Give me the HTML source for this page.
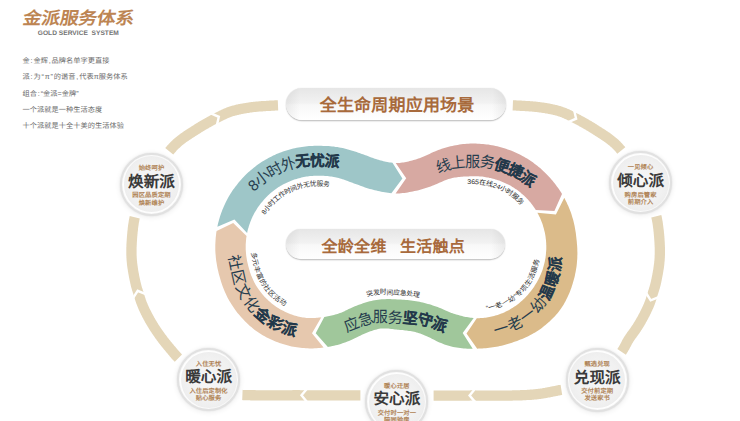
<!DOCTYPE html>
<html lang="zh-CN">
<head>
<meta charset="utf-8">
<title>金派服务体系</title>
<style>
html,body{margin:0;padding:0;background:#fff;}
body{width:740px;height:421px;position:relative;overflow:hidden;font-family:"Liberation Sans",sans-serif;text-rendering:geometricPrecision;}
svg{position:absolute;left:0;top:0;}
svg text{font-family:"Liberation Sans",sans-serif;}
.rt{font-size:15.2px;fill:#263D4E;font-weight:300;}
.rt .b{font-weight:900;fill:#22384A;stroke:#22384A;stroke-width:0.1px;}
.rs{font-size:6.8px;fill:#2b2b2b;}
.abs{position:absolute;white-space:nowrap;}
.title{left:21.3px;top:7.2px;font-size:17px;line-height:24px;color:#BD8553;font-weight:700;transform:skewX(-10deg) scaleX(1.087);transform-origin:left bottom;}
.sub{left:37.8px;top:30.2px;font-size:6.6px;line-height:8px;font-weight:bold;color:#737373;letter-spacing:0.03px;transform-origin:left center;}
.p{left:22.5px;font-size:7.2px;color:#6a6a6a;line-height:10px;letter-spacing:0.06px;}
.p b{font-weight:normal;margin:0 0.8px;}
.pill{position:absolute;border-radius:16px;box-sizing:border-box;text-align:center;color:#A86A3C;font-weight:bold;white-space:nowrap;
 background:linear-gradient(to right,rgba(0,0,0,.06),rgba(0,0,0,0) 14px,rgba(0,0,0,0) calc(100% - 14px),rgba(0,0,0,.06)),linear-gradient(#e6e6e6 0%,#f2f2f2 47%,#f8f8f8 53%,#ffffff 100%);
 box-shadow:0 1.2px 1.2px 0 rgba(0,0,0,.22),0 0 1px 0 rgba(0,0,0,.18),0 0 0 4px #fff;}
.c{position:absolute;width:0;height:0;}
.c i{position:absolute;display:block;border-radius:50%;}
.c .o{left:-31.6px;top:-31.6px;width:63.2px;height:63.2px;box-sizing:border-box;background:#fff;border:2.2px solid #e1e1e1;box-shadow:0 0 2px 0 rgba(0,0,0,.10),0 1px 5px 1px rgba(0,0,0,.06),inset 0 0 1.5px 0 rgba(0,0,0,.10);}
.c .n{left:-27.9px;top:-27.9px;width:55.8px;height:55.8px;background:radial-gradient(circle,#f7f7f7 0%,#f1f1f1 55%,#eaeaea 90%,#efefef 100%);}
.c div{position:absolute;left:-50px;width:100px;text-align:center;white-space:nowrap;}
.c .t{font-size:15.6px;font-weight:bold;color:#3a3a3a;top:-12.5px;line-height:22px;}
.c .a,.c .s1,.c .s2{font-size:6.3px;color:#B08457;line-height:8px;font-weight:bold;letter-spacing:0.1px}
.c.d1 div{margin-top:1px}
.c .a{top:-19.2px}
.c .s1{top:8.1px}
.c .s2{top:15.4px}
</style>

</head>
<body>
<svg width="740" height="421" viewBox="0 0 740 421">
<defs>
<path id="tp_teal" d="M250.4 188.1 L251.1 187.3 L251.8 186.5 L252.5 185.8 L253.2 185.1 L254.0 184.4 L254.7 183.6 L255.5 182.9 L256.3 182.3 L257.0 181.6 L257.8 180.9 L258.6 180.2 L259.4 179.6 L260.2 178.9 L261.0 178.3 L261.8 177.7 L262.6 177.1 L263.5 176.5 L264.3 175.9 L265.2 175.3 L266.0 174.7 L266.9 174.1 L267.7 173.6 L268.6 173.0 L269.5 172.5 L270.4 172.0 L271.3 171.5 L272.2 171.0 L273.1 170.5 L274.0 170.0 L274.9 169.5 L275.8 169.1 L276.7 168.6 L277.6 168.2 L278.6 167.7 L279.5 167.3 L280.5 166.9 L281.4 166.5 L282.4 166.1 L283.3 165.8 L284.3 165.4 L285.2 165.1 L286.2 164.7 L287.2 164.4 L288.1 164.1 L289.1 163.8 L290.1 163.5 L291.1 163.2 L292.1 162.9 L293.1 162.7 L294.0 162.4 L295.0 162.2 L296.0 161.9 L297.0 161.7 L298.0 161.5 L299.0 161.3 L300.0 161.1 L301.1 161.0 L302.1 160.8 L303.1 160.7 L304.1 160.5 L305.1 160.4 L306.1 160.3 L307.1 160.2 L308.1 160.1 L309.2 160.0 L310.2 160.0 L311.2 159.9 L312.2 159.9 L313.2 159.9 L314.3 159.8 L315.3 159.8 L316.3 159.8 L317.3 159.9 L318.3 159.9 L319.4 159.9 L320.4 159.9 L321.4 160.0 L322.4 160.0 L323.4 160.1 L324.5 160.1 L325.5 160.2 L326.5 160.3 L327.5 160.4 L328.5 160.5 L329.5 160.6 L330.6 160.7 L331.6 160.9 L332.6 161.0 L333.6 161.2 L334.6 161.4 L335.6 161.6 L336.6 161.8 L337.6 162.0 L338.6 162.2 L339.6 162.4"/>
<path id="tp_pink" d="M436.8 168.4 L437.7 168.0 L438.6 167.6 L439.5 167.2 L440.4 166.8 L441.4 166.4 L442.3 166.0 L443.3 165.6 L444.2 165.3 L445.2 165.0 L446.2 164.7 L447.2 164.4 L448.2 164.1 L449.2 163.9 L450.2 163.6 L451.2 163.4 L452.2 163.2 L453.2 162.9 L454.2 162.7 L455.2 162.6 L456.2 162.4 L457.2 162.2 L458.2 162.1 L459.2 161.9 L460.2 161.8 L461.2 161.7 L462.2 161.6 L463.2 161.5 L464.2 161.4 L465.2 161.3 L466.2 161.2 L467.2 161.1 L468.3 161.1 L469.3 161.0 L470.3 161.0 L471.3 160.9 L472.3 160.9 L473.3 160.9 L474.3 160.9 L475.3 160.9 L476.3 160.9 L477.3 161.0 L478.3 161.0 L479.3 161.1 L480.3 161.1 L481.3 161.2 L482.3 161.3 L483.3 161.4 L484.3 161.5 L485.3 161.6 L486.3 161.8 L487.3 161.9 L488.3 162.1 L489.3 162.3 L490.3 162.5 L491.3 162.7 L492.3 162.9 L493.2 163.1 L494.2 163.3 L495.2 163.5 L496.2 163.8 L497.1 164.0 L498.1 164.3 L499.1 164.6 L500.0 164.8 L501.0 165.1 L501.9 165.4 L502.9 165.7 L503.8 166.0 L504.8 166.4 L505.7 166.7 L506.7 167.0 L507.6 167.4 L508.6 167.7 L509.5 168.1 L510.4 168.5 L511.3 168.9 L512.3 169.3 L513.2 169.7 L514.1 170.1 L515.0 170.6 L515.9 171.0 L516.8 171.5 L517.7 171.9 L518.5 172.4 L519.4 172.9 L520.3 173.4 L521.2 173.9 L522.0 174.4 L522.9 175.0 L523.7 175.5 L524.6 176.1 L525.4 176.6 L526.2 177.2 L527.1 177.8 L527.9 178.4 L528.7 179.0 L529.5 179.6 L530.3 180.2 L531.1 180.8 L531.8 181.5 L532.6 182.1 L533.4 182.8 L534.1 183.4"/>
<path id="tp_gold" d="M493.9 330.7 L494.8 330.5 L495.8 330.2 L496.8 330.0 L497.8 329.7 L498.7 329.5 L499.7 329.2 L500.6 328.9 L501.6 328.6 L502.6 328.3 L503.5 328.0 L504.5 327.7 L505.4 327.4 L506.3 327.0 L507.3 326.7 L508.2 326.3 L509.1 325.9 L510.1 325.5 L511.0 325.1 L511.9 324.7 L512.8 324.3 L513.7 323.9 L514.6 323.4 L515.5 323.0 L516.4 322.5 L517.2 322.0 L518.1 321.5 L519.0 321.0 L519.8 320.5 L520.7 319.9 L521.5 319.4 L522.3 318.8 L523.2 318.3 L524.0 317.7 L524.8 317.1 L525.6 316.5 L526.4 315.9 L527.2 315.3 L528.0 314.7 L528.7 314.0 L529.5 313.4 L530.2 312.7 L531.0 312.1 L531.7 311.4 L532.4 310.7 L533.1 310.0 L533.9 309.3 L534.6 308.6 L535.2 307.9 L535.9 307.1 L536.6 306.4 L537.2 305.7 L537.9 304.9 L538.5 304.2 L539.2 303.4 L539.8 302.6 L540.4 301.8 L541.0 301.1 L541.6 300.3 L542.2 299.5 L542.7 298.6 L543.3 297.8 L543.8 297.0 L544.4 296.2 L544.9 295.3 L545.4 294.5 L545.8 293.6 L546.3 292.7 L546.7 291.8 L547.2 291.0 L547.6 290.1 L548.0 289.2 L548.4 288.3 L548.8 287.4 L549.2 286.5 L549.6 285.6 L549.9 284.7 L550.3 283.8 L550.6 282.8 L550.9 281.9 L551.2 281.0 L551.5 280.1 L551.8 279.2 L552.1 278.2 L552.4 277.3 L552.6 276.4 L552.9 275.4 L553.1 274.5 L553.3 273.6 L553.5 272.6 L553.7 271.7 L553.9 270.7 L554.1 269.8 L554.2 268.9 L554.4 267.9 L554.5 267.0 L554.7 266.0 L554.8 265.1 L554.9 264.1 L555.0 263.2 L555.1 262.3 L555.2 261.3 L555.2 260.4 L555.3 259.4 L555.4 258.5 L555.4 257.6 L555.5 256.6"/>
<path id="tp_green" d="M344.4 326.8 L345.3 326.5 L346.2 326.2 L347.1 325.8 L348.1 325.5 L349.0 325.1 L349.9 324.8 L350.8 324.4 L351.8 324.0 L352.7 323.6 L353.6 323.2 L354.5 322.8 L355.5 322.4 L356.4 322.1 L357.3 321.7 L358.3 321.4 L359.2 321.0 L360.2 320.7 L361.1 320.4 L362.1 320.1 L363.1 319.8 L364.0 319.5 L365.0 319.2 L365.9 318.9 L366.9 318.7 L367.9 318.4 L368.8 318.2 L369.8 318.0 L370.8 317.7 L371.8 317.5 L372.8 317.3 L373.7 317.1 L374.7 317.0 L375.7 316.8 L376.7 316.7 L377.7 316.6 L378.7 316.5 L379.7 316.4 L380.7 316.4 L381.7 316.3 L382.7 316.3 L383.7 316.4 L384.7 316.4 L385.7 316.5 L386.7 316.6 L387.7 316.7 L388.7 316.8 L389.7 316.9 L390.7 317.1 L391.7 317.2 L392.7 317.3 L393.6 317.4 L394.6 317.5 L395.6 317.5 L396.6 317.6 L397.5 317.6 L398.5 317.7 L399.5 317.7 L400.4 317.7 L401.4 317.7 L402.4 317.7 L403.4 317.7 L404.3 317.7 L405.3 317.7 L406.3 317.7 L407.3 317.7 L408.3 317.7 L409.2 317.8 L410.2 317.8 L411.2 317.9 L412.2 317.9 L413.2 318.0 L414.2 318.1 L415.1 318.2 L416.1 318.3 L417.1 318.4 L418.1 318.6 L419.1 318.7 L420.0 318.9 L421.0 319.0 L422.0 319.2 L423.0 319.4 L423.9 319.6 L424.9 319.8 L425.9 320.1 L426.8 320.3 L427.8 320.5 L428.8 320.8 L429.7 321.1 L430.7 321.3 L431.6 321.6 L432.6 321.9 L433.5 322.2 L434.5 322.5 L435.4 322.9 L436.4 323.2 L437.3 323.5 L438.2 323.9 L439.2 324.2 L440.1 324.6 L441.0 325.0 L442.0 325.3 L442.9 325.7 L443.9 326.0 L444.8 326.4 L445.7 326.7 L446.7 327.0"/>
<path id="tp_peach" d="M234.0 254.9 L234.1 255.8 L234.2 256.8 L234.4 257.7 L234.5 258.7 L234.7 259.6 L234.8 260.6 L235.0 261.5 L235.2 262.5 L235.4 263.4 L235.6 264.4 L235.8 265.3 L236.1 266.2 L236.3 267.2 L236.5 268.1 L236.7 269.1 L236.9 270.0 L237.1 270.9 L237.4 271.9 L237.6 272.8 L237.8 273.8 L238.0 274.7 L238.3 275.6 L238.5 276.6 L238.7 277.5 L239.0 278.5 L239.3 279.4 L239.6 280.4 L239.8 281.3 L240.1 282.2 L240.5 283.2 L240.8 284.1 L241.1 285.0 L241.5 286.0 L241.8 286.9 L242.2 287.8 L242.6 288.7 L243.0 289.6 L243.4 290.6 L243.8 291.5 L244.3 292.4 L244.7 293.2 L245.2 294.1 L245.7 295.0 L246.2 295.9 L246.7 296.7 L247.2 297.6 L247.8 298.4 L248.3 299.2 L248.9 300.0 L249.5 300.8 L250.1 301.6 L250.7 302.4 L251.3 303.2 L252.0 304.0 L252.6 304.8 L253.3 305.6 L253.9 306.3 L254.6 307.1 L255.3 307.8 L255.9 308.6 L256.6 309.3 L257.3 310.0 L258.1 310.7 L258.8 311.4 L259.5 312.1 L260.2 312.8 L261.0 313.5 L261.7 314.2 L262.5 314.8 L263.3 315.5 L264.1 316.1 L264.8 316.8 L265.7 317.4 L266.5 318.0 L267.3 318.6 L268.1 319.1 L269.0 319.7 L269.8 320.2 L270.7 320.8 L271.6 321.3 L272.4 321.8 L273.3 322.3 L274.2 322.7 L275.1 323.2 L276.0 323.7 L276.9 324.1 L277.9 324.5 L278.8 324.9 L279.7 325.3 L280.6 325.7 L281.6 326.1 L282.5 326.5 L283.4 326.9 L284.4 327.2 L285.3 327.5 L286.3 327.9 L287.3 328.2 L288.2 328.5 L289.2 328.8 L290.1 329.1 L291.1 329.3 L292.1 329.6 L293.1 329.8 L294.0 330.1 L295.0 330.3 L296.0 330.5 L297.0 330.7"/>
<path id="tp_teal_s" d="M263.1 213.7 L263.5 213.1 L263.9 212.4 L264.3 211.9 L264.7 211.2 L265.2 210.6 L265.6 210.0 L266.0 209.5 L266.5 208.9 L266.9 208.3 L267.4 207.7 L267.8 207.2 L268.3 206.6 L268.8 206.0 L269.2 205.5 L269.7 204.9 L270.2 204.4 L270.7 203.8 L271.2 203.3 L271.7 202.8 L272.2 202.3 L272.8 201.8 L273.3 201.2 L273.8 200.7 L274.3 200.2 L274.9 199.8 L275.4 199.3 L276.0 198.8 L276.6 198.3 L277.1 197.9 L277.7 197.4 L278.3 196.9 L278.9 196.5 L279.5 196.1 L280.0 195.6 L280.6 195.2 L281.2 194.8 L281.9 194.4 L282.5 194.0 L283.1 193.6 L283.7 193.2 L284.3 192.8 L285.0 192.4 L285.6 192.1 L286.2 191.7 L286.9 191.4 L287.5 191.0 L288.2 190.7 L288.8 190.4 L289.5 190.0 L290.2 189.7 L290.9 189.4 L291.5 189.1 L292.2 188.8 L292.9 188.6 L293.6 188.3 L294.2 188.0 L294.9 187.8 L295.6 187.5 L296.3 187.3 L297.0 187.0 L297.7 186.8 L298.4 186.6 L299.1 186.4 L299.8 186.2 L300.5 186.0 L301.3 185.8 L302.0 185.6 L302.7 185.4 L303.4 185.3 L304.1 185.1 L304.9 185.0 L305.6 184.8 L306.3 184.7 L307.0 184.6 L307.8 184.5 L308.5 184.4 L309.2 184.3 L310.0 184.2 L310.7 184.1 L311.4 184.0 L312.2 184.0 L312.9 183.9 L313.6 183.9 L314.4 183.8 L315.1 183.8 L315.9 183.8 L316.6 183.8 L317.3 183.8 L318.1 183.7 L318.8 183.7 L319.6 183.7 L320.3 183.7 L321.0 183.8 L321.8 183.8 L322.5 183.8 L323.3 183.8 L324.0 183.8 L324.8 183.9 L325.5 183.9 L326.2 184.0 L327.0 184.1 L327.8 184.1 L328.5 184.2 L329.2 184.3 L330.0 184.4"/>
<path id="tp_pink_s" d="M467.3 182.1 L468.0 182.1 L468.8 182.0 L469.6 182.0 L470.3 182.0 L471.1 181.9 L471.9 181.9 L472.6 181.9 L473.4 181.9 L474.1 181.9 L474.9 181.9 L475.7 181.9 L476.4 181.9 L477.2 182.0 L477.9 182.0 L478.7 182.1 L479.5 182.1 L480.2 182.2 L481.0 182.3 L481.7 182.3 L482.5 182.4 L483.2 182.5 L484.0 182.7 L484.7 182.8 L485.5 182.9 L486.2 183.1 L487.0 183.2 L487.7 183.4 L488.5 183.5 L489.2 183.7 L489.9 183.9 L490.7 184.1 L491.4 184.3 L492.1 184.5 L492.8 184.7 L493.6 184.9 L494.3 185.1 L495.0 185.4 L495.7 185.6 L496.4 185.9 L497.1 186.1 L497.8 186.4 L498.5 186.7 L499.2 186.9 L499.9 187.2 L500.6 187.5 L501.3 187.8 L502.0 188.2 L502.7 188.5 L503.4 188.8 L504.0 189.1 L504.7 189.5 L505.4 189.9 L506.0 190.2 L506.7 190.6 L507.3 191.0 L508.0 191.3 L508.6 191.7 L509.2 192.1 L509.9 192.5 L510.5 193.0 L511.1 193.4 L511.7 193.8 L512.3 194.2 L513.0 194.7 L513.6 195.1 L514.1 195.6 L514.7 196.0 L515.3 196.5 L515.9 197.0 L516.5 197.5 L517.0 198.0 L517.6 198.5 L518.2 199.0 L518.7 199.5 L519.2 200.0 L519.8 200.5 L520.3 201.0 L520.8 201.6 L521.4 202.1 L521.9 202.6 L522.4 203.2 L522.9 203.7"/>
<path id="tp_gold_s" d="M485.9 308.2 L486.6 308.1 L487.3 308.0 L488.1 307.9 L488.8 307.7 L489.5 307.6 L490.2 307.4 L490.9 307.3 L491.6 307.1 L492.3 306.9 L493.0 306.8 L493.7 306.6 L494.4 306.4 L495.1 306.2 L495.8 306.0 L496.5 305.7 L497.2 305.5 L497.9 305.3 L498.6 305.0 L499.3 304.8 L500.0 304.5 L500.6 304.3 L501.3 304.0 L502.0 303.7 L502.7 303.4 L503.3 303.2 L504.0 302.9 L504.7 302.6 L505.3 302.2 L506.0 301.9 L506.6 301.6 L507.3 301.3 L508.0 300.9 L508.6 300.6 L509.2 300.2 L509.9 299.9 L510.5 299.5 L511.1 299.1 L511.8 298.7 L512.4 298.3 L513.0 297.9 L513.6 297.5 L514.2 297.1 L514.8 296.6 L515.4 296.2 L516.0 295.7 L516.5 295.3 L517.1 294.8 L517.7 294.3 L518.2 293.8 L518.8 293.4 L519.3 292.9 L519.9 292.3 L520.4 291.8 L520.9 291.3 L521.5 290.8 L522.0 290.3 L522.5 289.7 L523.0 289.2 L523.5 288.7 L524.0 288.1 L524.5 287.5 L524.9 287.0 L525.4 286.4 L525.9 285.8 L526.3 285.2 L526.7 284.6 L527.2 284.0 L527.6 283.4 L528.0 282.8 L528.4 282.2 L528.8 281.5 L529.1 280.9 L529.5 280.3 L529.8 279.6 L530.2 279.0 L530.5 278.3 L530.9 277.6 L531.2 277.0 L531.5 276.3 L531.8 275.6 L532.1 275.0 L532.4 274.3 L532.7 273.6 L532.9 272.9 L533.2 272.3 L533.5 271.6 L533.7 270.9 L534.0 270.2 L534.2 269.5 L534.4 268.8 L534.6 268.1 L534.8 267.4 L535.0 266.7 L535.2 266.0 L535.4 265.3 L535.6 264.6 L535.7 263.9 L535.9 263.2 L536.1 262.5 L536.2 261.8 L536.3 261.0 L536.5 260.3 L536.6 259.6 L536.7 258.9"/>
<path id="tp_green_s" d="M366.5 294.4 L367.7 294.1 L368.9 293.8 L370.1 293.5 L371.3 293.2 L372.5 293.0 L373.7 292.7 L374.9 292.6 L376.1 292.4 L377.4 292.2 L378.6 292.1 L379.8 292.1 L381.1 292.0 L382.3 291.9 L383.5 291.9 L384.8 291.9 L386.0 291.9 L387.2 292.0 L388.5 292.0 L389.7 292.1 L390.9 292.1 L392.1 292.2 L393.3 292.3 L394.6 292.3 L395.8 292.4 L397.0 292.5 L398.2 292.6 L399.4 292.6 L400.6 292.7 L401.9 292.8 L403.1 292.9 L404.3 293.0 L405.5 293.1 L406.7 293.2 L407.9 293.3 L409.1 293.4 L410.3 293.5 L411.5 293.7 L412.7 293.8 L413.9 294.0 L415.1 294.2 L416.3 294.4 L417.5 294.6 L418.7 294.8 L419.9 295.0"/>
<path id="tp_peach_s" d="M253.7 252.1 L253.8 252.8 L253.8 253.5 L253.9 254.2 L254.0 255.0 L254.1 255.7 L254.2 256.4 L254.3 257.1 L254.5 257.9 L254.6 258.6 L254.7 259.3 L254.9 260.0 L255.0 260.7 L255.2 261.4 L255.3 262.2 L255.5 262.9 L255.7 263.6 L255.8 264.3 L256.0 265.0 L256.2 265.7 L256.4 266.4 L256.6 267.1 L256.8 267.8 L257.0 268.6 L257.2 269.2 L257.4 270.0 L257.7 270.7 L257.9 271.4 L258.2 272.0 L258.4 272.7 L258.7 273.4 L259.0 274.1 L259.2 274.8 L259.5 275.5 L259.8 276.2 L260.1 276.9 L260.4 277.5 L260.8 278.2 L261.1 278.9 L261.4 279.5 L261.8 280.2 L262.1 280.8 L262.5 281.5 L262.9 282.1 L263.3 282.8 L263.7 283.4 L264.1 284.0 L264.5 284.6 L264.9 285.2 L265.3 285.9 L265.8 286.5 L266.2 287.1 L266.7 287.7 L267.1 288.3 L267.6 288.8 L268.1 289.4 L268.6 290.0 L269.1 290.6 L269.6 291.1 L270.1 291.7 L270.6 292.2 L271.1 292.8 L271.6 293.3 L272.1 293.8 L272.7 294.4 L273.2 294.9 L273.8 295.4 L274.3 295.9 L274.9 296.4 L275.4 296.9 L276.0 297.4 L276.6 297.9 L277.2 298.3 L277.8 298.8 L278.4 299.3 L279.0 299.7 L279.6 300.1 L280.2 300.6 L280.8 301.0 L281.5 301.4 L282.1 301.8 L282.8 302.2 L283.4 302.6 L284.1 302.9 L284.7 303.3 L285.4 303.7 L286.1 304.0"/>
</defs>
<g id="ring">
<polygon points="513.0,100.2 513.8,100.2 514.6,100.3 515.3,100.3 516.1,100.3 516.8,100.4 517.6,100.4 518.4,100.4 519.1,100.5 519.9,100.5 520.6,100.6 521.4,100.6 522.1,100.7 522.9,100.7 523.6,100.7 524.4,100.8 525.1,100.8 525.9,100.9 526.6,100.9 527.4,101.0 528.1,101.0 528.9,101.1 529.7,101.1 530.4,101.2 531.2,101.2 532.0,101.3 532.7,101.3 533.5,101.4 534.3,101.5 535.1,101.5 535.8,101.6 536.6,101.7 537.4,101.8 538.2,101.9 538.9,102.0 539.7,102.1 540.5,102.2 541.3,102.3 542.0,102.4 542.8,102.5 543.5,102.6 544.3,102.7 545.1,102.8 545.8,103.0 546.6,103.1 547.3,103.2 548.1,103.3 548.9,103.5 549.6,103.6 550.4,103.8 551.2,103.9 551.9,104.1 552.7,104.2 553.5,104.4 554.2,104.5 555.0,104.7 555.8,104.9 556.5,105.1 557.3,105.3 558.1,105.5 558.9,105.7 559.7,105.9 560.4,106.1 561.2,106.4 562.0,106.6 562.8,106.9 563.5,107.2 564.3,107.4 565.1,107.7 565.8,108.0 566.6,108.3 567.3,108.7 568.1,109.0 568.8,109.3 569.5,109.6 570.2,110.0 570.9,110.3 571.6,110.6 572.3,111.0 573.0,111.3 573.7,111.7 574.4,112.0 575.1,112.4 575.8,112.7 576.4,113.0 577.1,113.4 577.8,113.7 578.5,114.1 579.1,114.4 579.8,114.8 580.5,115.1 581.2,115.5 581.9,115.9 582.5,116.2 583.2,116.6 583.9,117.0 584.6,117.3 585.2,117.7 585.9,118.1 586.6,118.5 587.2,118.8 587.9,119.2 588.6,119.6 589.2,120.0 589.9,120.4 590.6,120.7 591.2,121.1 591.9,121.5 592.5,121.9 593.2,122.3 593.9,122.7 594.5,123.1 595.2,123.5 595.8,123.9 596.5,124.3 597.1,124.7 597.8,125.2 598.4,125.6 599.0,126.0 599.7,126.4 600.3,126.8 600.9,127.2 601.6,127.6 602.2,128.0 602.8,128.4 603.5,128.8 604.1,129.2 604.8,129.6 605.4,130.0 606.1,130.5 606.7,130.9 607.3,131.3 608.0,131.7 608.6,132.2 609.3,132.6 609.9,133.1 610.6,133.5 611.2,134.0 611.9,134.5 612.5,134.9 613.1,135.4 613.8,135.9 614.4,136.4 615.0,136.9 615.6,137.4 616.3,137.9 616.9,138.5 617.5,139.0 618.1,139.6 618.7,140.1 619.3,140.7 619.9,141.3 620.5,141.8 621.0,142.4 621.6,143.0 622.1,143.6 622.7,144.2 623.2,144.8 623.7,145.4 624.3,146.0 624.8,146.6 625.3,147.2 625.3,147.2 617.3,153.7 616.9,153.2 616.4,152.7 616.0,152.1 615.5,151.6 615.0,151.1 614.6,150.6 614.1,150.1 613.6,149.6 613.1,149.1 612.6,148.6 612.1,148.1 611.6,147.6 611.1,147.1 610.6,146.7 610.1,146.2 609.6,145.8 609.1,145.3 608.5,144.9 608.0,144.5 607.4,144.0 606.9,143.6 606.3,143.2 605.7,142.8 605.2,142.3 604.6,141.9 604.0,141.5 603.4,141.1 602.8,140.7 602.2,140.3 601.6,139.9 601.0,139.5 600.4,139.1 599.8,138.7 599.2,138.3 598.6,137.9 597.9,137.5 597.3,137.1 596.7,136.7 596.1,136.3 595.4,135.9 594.8,135.5 594.2,135.1 593.5,134.7 592.9,134.3 592.2,133.8 591.6,133.4 591.0,133.1 590.4,132.7 589.7,132.3 589.1,131.9 588.5,131.5 587.9,131.1 587.2,130.8 586.6,130.4 586.0,130.0 585.3,129.6 584.7,129.3 584.1,128.9 583.4,128.5 582.8,128.2 582.2,127.8 581.5,127.4 580.9,127.1 580.2,126.7 579.6,126.4 578.9,126.0 578.3,125.6 577.6,125.3 577.0,124.9 576.3,124.6 575.7,124.3 575.0,123.9 574.4,123.6 573.7,123.2 573.1,122.9 572.4,122.6 571.8,122.2 571.1,121.9 570.4,121.5 569.8,121.2 569.1,120.9 568.4,120.5 567.8,120.2 567.1,119.9 566.5,119.6 565.8,119.3 565.2,119.0 564.5,118.7 563.9,118.4 563.3,118.1 562.6,117.9 562.0,117.6 561.3,117.3 560.7,117.1 560.1,116.9 559.4,116.6 558.8,116.4 558.1,116.2 557.5,116.0 556.8,115.8 556.1,115.6 555.5,115.4 554.8,115.3 554.1,115.1 553.4,114.9 552.7,114.8 552.0,114.6 551.3,114.4 550.6,114.3 549.9,114.2 549.2,114.0 548.5,113.9 547.8,113.8 547.1,113.6 546.3,113.5 545.6,113.4 544.9,113.3 544.2,113.1 543.5,113.0 542.7,112.9 542.0,112.8 541.3,112.7 540.5,112.6 539.8,112.5 539.1,112.4 538.4,112.3 537.7,112.2 536.9,112.1 536.2,112.0 535.5,111.9 534.8,111.9 534.1,111.8 533.4,111.7 532.6,111.7 531.9,111.6 531.2,111.5 530.4,111.5 529.7,111.4 529.0,111.4 528.2,111.3 527.5,111.3 526.8,111.2 526.0,111.2 525.3,111.2 524.5,111.1 523.8,111.1 523.0,111.0 522.3,111.0 521.5,110.9 520.8,110.9 520.0,110.9 519.3,110.8 518.5,110.8 517.8,110.7 517.0,110.7 516.3,110.7 515.6,110.6 514.8,110.6 514.1,110.5 513.3,110.5 512.6,110.5 512.6,110.5" fill="#E4D6B8"/>
<polyline points="574.2,110.2 576.1,118.7 568.2,122.1" fill="none" stroke="#fff" stroke-width="2.4" stroke-linejoin="miter"/>
<polygon points="661.3,215.0 661.5,215.8 661.7,216.6 661.8,217.3 662.0,218.1 662.1,218.9 662.3,219.7 662.4,220.5 662.6,221.2 662.7,222.0 662.8,222.8 662.9,223.6 663.0,224.3 663.1,225.1 663.2,225.9 663.3,226.6 663.4,227.4 663.5,228.2 663.6,229.0 663.7,229.7 663.8,230.5 663.9,231.3 663.9,232.0 664.0,232.8 664.1,233.5 664.2,234.3 664.2,235.1 664.3,235.8 664.4,236.6 664.4,237.4 664.5,238.1 664.5,238.9 664.6,239.7 664.6,240.4 664.7,241.2 664.7,242.0 664.8,242.7 664.8,243.5 664.8,244.3 664.9,245.1 664.9,245.8 664.9,246.6 665.0,247.4 665.0,248.2 665.0,248.9 665.0,249.7 665.0,250.5 665.0,251.3 665.0,252.1 665.0,252.8 665.0,253.6 665.0,254.4 665.0,255.2 664.9,256.0 664.9,256.8 664.9,257.6 664.8,258.3 664.8,259.1 664.7,259.9 664.7,260.7 664.6,261.5 664.5,262.3 664.4,263.1 664.4,263.8 664.3,264.6 664.2,265.4 664.1,266.2 664.0,267.0 663.9,267.7 663.8,268.5 663.7,269.3 663.5,270.0 663.4,270.8 663.3,271.6 663.2,272.3 663.0,273.1 662.9,273.9 662.8,274.6 662.6,275.4 662.5,276.1 662.3,276.9 662.2,277.6 662.0,278.4 661.9,279.1 661.7,279.9 661.6,280.7 661.4,281.4 661.3,282.2 661.1,282.9 660.9,283.7 660.8,284.4 660.6,285.2 660.4,286.0 660.2,286.8 660.0,287.5 659.8,288.3 659.6,289.1 659.3,289.8 659.1,290.6 658.9,291.3 658.6,292.1 658.4,292.8 658.2,293.5 657.9,294.2 657.7,294.9 657.5,295.6 657.3,296.3 657.1,297.0 656.8,297.7 656.6,298.5 656.4,299.2 656.2,299.9 656.0,300.7 655.7,301.4 655.5,302.2 655.2,302.9 654.9,303.7 654.7,304.5 654.4,305.2 654.1,306.0 653.8,306.7 653.5,307.5 653.2,308.2 652.8,308.9 652.5,309.6 652.2,310.4 651.9,311.1 651.5,311.8 651.2,312.5 650.9,313.2 650.5,313.9 650.2,314.6 649.9,315.3 649.5,316.0 649.2,316.7 648.8,317.3 648.4,318.0 648.1,318.7 647.7,319.4 647.3,320.1 647.0,320.8 646.6,321.5 646.2,322.1 645.8,322.8 645.5,323.5 645.1,324.2 644.7,324.8 644.3,325.5 643.9,326.2 643.5,326.8 643.1,327.5 642.7,328.1 642.3,328.8 641.9,329.5 641.4,330.1 641.0,330.8 640.6,331.5 640.1,332.1 639.7,332.8 639.2,333.4 638.7,334.1 638.3,334.7 637.8,335.3 637.4,335.9 636.9,336.6 636.5,337.2 636.1,337.8 635.6,338.3 635.2,338.9 634.8,339.5 634.4,340.1 634.0,340.7 633.6,341.3 633.3,341.8 632.9,342.4 632.6,343.0 632.2,343.5 631.9,344.1 631.6,344.7 631.2,345.4 630.9,346.0 630.6,346.7 630.2,347.3 629.8,348.0 629.5,348.7 629.1,349.4 628.7,350.1 628.3,350.8 627.9,351.6 627.4,352.3 627.0,353.0 626.6,353.6 626.2,354.3 625.9,354.7 617.3,349.1 617.7,348.5 618.1,347.8 618.5,347.2 618.8,346.7 619.2,346.1 619.5,345.5 619.8,344.9 620.2,344.3 620.5,343.7 620.8,343.0 621.2,342.4 621.5,341.7 621.9,341.0 622.2,340.3 622.6,339.6 623.0,338.9 623.4,338.2 623.8,337.5 624.3,336.8 624.7,336.1 625.2,335.4 625.6,334.7 626.1,334.0 626.5,333.4 627.0,332.8 627.4,332.1 627.9,331.5 628.3,330.9 628.8,330.3 629.2,329.7 629.7,329.1 630.1,328.5 630.5,327.9 630.9,327.3 631.3,326.7 631.7,326.1 632.1,325.6 632.5,325.0 632.9,324.4 633.3,323.8 633.7,323.1 634.0,322.5 634.4,321.9 634.8,321.3 635.2,320.7 635.5,320.0 635.9,319.4 636.3,318.8 636.6,318.1 637.0,317.5 637.4,316.9 637.7,316.2 638.1,315.6 638.4,315.0 638.7,314.3 639.1,313.7 639.4,313.0 639.8,312.4 640.1,311.8 640.4,311.1 640.7,310.5 641.1,309.8 641.4,309.1 641.7,308.5 642.0,307.8 642.3,307.2 642.6,306.5 642.9,305.9 643.2,305.2 643.5,304.6 643.8,303.9 644.1,303.3 644.3,302.6 644.6,301.9 644.8,301.3 645.1,300.7 645.3,300.0 645.5,299.4 645.8,298.7 646.0,298.0 646.2,297.3 646.4,296.7 646.6,295.9 646.8,295.2 647.1,294.5 647.3,293.8 647.5,293.0 647.8,292.3 648.0,291.6 648.2,290.8 648.4,290.1 648.7,289.4 648.9,288.7 649.1,288.0 649.3,287.3 649.5,286.7 649.7,286.0 649.9,285.3 650.1,284.6 650.3,283.9 650.4,283.3 650.6,282.6 650.8,281.9 650.9,281.2 651.1,280.5 651.2,279.7 651.4,279.0 651.6,278.3 651.7,277.6 651.8,276.9 652.0,276.1 652.1,275.4 652.3,274.7 652.4,274.0 652.5,273.3 652.7,272.5 652.8,271.8 652.9,271.1 653.0,270.4 653.2,269.7 653.3,268.9 653.4,268.2 653.5,267.5 653.6,266.8 653.7,266.1 653.8,265.3 653.9,264.6 654.0,263.9 654.1,263.2 654.2,262.5 654.2,261.8 654.3,261.1 654.4,260.4 654.4,259.7 654.5,258.9 654.5,258.2 654.6,257.5 654.6,256.8 654.6,256.1 654.6,255.4 654.7,254.6 654.7,253.9 654.7,253.2 654.7,252.5 654.7,251.8 654.7,251.0 654.7,250.3 654.7,249.6 654.7,248.9 654.7,248.1 654.7,247.4 654.6,246.7 654.6,246.0 654.6,245.2 654.5,244.5 654.5,243.8 654.5,243.0 654.4,242.3 654.4,241.6 654.3,240.9 654.3,240.1 654.2,239.4 654.2,238.7 654.1,237.9 654.1,237.2 654.0,236.5 653.9,235.7 653.9,235.0 653.8,234.3 653.7,233.5 653.7,232.8 653.6,232.1 653.5,231.3 653.4,230.6 653.4,229.9 653.3,229.1 653.2,228.4 653.1,227.7 653.0,227.0 652.9,226.3 652.8,225.5 652.7,224.8 652.6,224.1 652.5,223.4 652.4,222.7 652.2,222.0 652.1,221.3 652.0,220.6 651.8,219.9 651.7,219.2 651.5,218.5 651.4,217.9 651.3,217.4" fill="#E4D6B8"/>
<polyline points="658.7,297.2 650.7,300.3 646.1,293.0" fill="none" stroke="#fff" stroke-width="2.4" stroke-linejoin="miter"/>
<polygon points="562.2,395.0 561.5,395.1 560.8,395.2 560.1,395.3 559.4,395.5 558.7,395.6 557.9,395.7 557.2,395.9 556.5,396.0 555.8,396.2 555.0,396.3 554.3,396.5 553.6,396.6 552.8,396.8 552.1,396.9 551.3,397.1 550.6,397.2 549.8,397.4 549.1,397.5 548.3,397.6 547.6,397.8 546.8,397.9 546.1,398.1 545.3,398.2 544.5,398.3 543.8,398.5 543.0,398.6 542.2,398.7 541.4,398.8 540.6,398.9 539.8,399.0 539.1,399.1 538.3,399.2 537.5,399.3 536.8,399.4 536.0,399.4 535.2,399.5 534.5,399.6 533.7,399.7 532.9,399.7 532.1,399.8 531.4,399.9 530.6,399.9 529.8,400.0 529.1,400.0 528.3,400.1 527.5,400.1 526.8,400.1 526.0,400.2 525.2,400.2 524.5,400.3 523.7,400.3 523.0,400.3 522.2,400.4 521.4,400.4 520.7,400.4 519.9,400.5 519.2,400.5 518.4,400.5 517.6,400.5 516.9,400.6 516.1,400.6 515.3,400.6 514.6,400.6 513.8,400.6 513.1,400.6 512.3,400.7 511.5,400.7 510.8,400.7 510.0,400.7 509.3,400.7 508.5,400.7 507.8,400.7 507.0,400.7 506.2,400.7 505.5,400.7 504.7,400.7 504.0,400.7 503.2,400.7 502.5,400.7 501.7,400.7 501.0,400.7 500.2,400.7 499.4,400.7 498.7,400.7 497.9,400.7 497.2,400.7 496.4,400.7 495.7,400.7 494.9,400.7 494.2,400.7 493.4,400.7 492.7,400.7 491.9,400.7 491.2,400.7 490.4,400.7 489.7,400.7 488.9,400.7 488.2,400.7 487.4,400.7 486.6,400.7 485.9,400.7 485.1,400.7 484.4,400.7 483.6,400.7 482.9,400.7 482.1,400.7 481.4,400.7 480.6,400.7 479.9,400.7 479.1,400.7 478.4,400.7 477.6,400.7 476.9,400.7 476.1,400.7 475.4,400.6 474.6,400.6 473.9,400.6 473.1,400.6 472.4,400.6 471.6,400.6 470.9,400.6 470.1,400.6 469.4,400.7 468.6,400.7 467.9,400.7 467.1,400.7 466.4,400.7 465.6,400.7 464.9,400.7 464.1,400.7 463.4,400.7 462.6,400.7 461.9,400.7 461.1,400.7 460.4,400.7 459.6,400.7 458.9,400.7 458.1,400.7 457.4,400.7 456.6,400.7 455.9,400.7 455.1,400.7 454.4,400.7 453.6,400.7 452.9,400.7 452.1,400.7 451.4,400.7 450.6,400.7 449.9,400.7 449.1,400.7 448.3,400.7 447.6,400.7 446.8,400.7 446.1,400.7 445.3,400.7 444.6,400.7 443.8,400.7 443.1,400.7 442.3,400.7 441.6,400.7 440.8,400.7 440.1,400.7 439.3,400.7 438.6,400.7 437.8,400.7 437.1,400.7 436.3,400.7 435.6,400.7 434.8,400.7 434.1,400.7 433.6,400.7 433.6,390.4 434.3,390.4 435.1,390.4 435.8,390.4 436.6,390.4 437.3,390.4 438.1,390.4 438.8,390.4 439.6,390.4 440.3,390.4 441.1,390.4 441.8,390.4 442.6,390.4 443.3,390.4 444.1,390.4 444.8,390.4 445.6,390.4 446.3,390.4 447.1,390.4 447.8,390.4 448.6,390.4 449.3,390.4 450.1,390.4 450.9,390.4 451.6,390.4 452.4,390.4 453.1,390.4 453.9,390.4 454.6,390.4 455.4,390.4 456.1,390.4 456.9,390.4 457.6,390.4 458.4,390.4 459.1,390.4 459.9,390.4 460.6,390.4 461.4,390.4 462.1,390.4 462.9,390.4 463.6,390.4 464.4,390.4 465.1,390.4 465.9,390.4 466.6,390.4 467.4,390.4 468.1,390.4 468.9,390.4 469.6,390.4 470.4,390.3 471.1,390.3 471.9,390.3 472.6,390.3 473.4,390.3 474.2,390.3 474.9,390.3 475.7,390.3 476.4,390.4 477.2,390.4 477.9,390.4 478.7,390.4 479.4,390.4 480.2,390.4 480.9,390.4 481.7,390.4 482.4,390.4 483.2,390.4 483.9,390.4 484.7,390.4 485.4,390.4 486.2,390.4 486.9,390.4 487.7,390.4 488.4,390.4 489.2,390.4 490.0,390.4 490.7,390.4 491.5,390.4 492.2,390.4 493.0,390.4 493.7,390.4 494.5,390.4 495.2,390.4 496.0,390.4 496.7,390.4 497.5,390.4 498.2,390.4 498.9,390.4 499.7,390.4 500.4,390.4 501.2,390.4 501.9,390.4 502.7,390.4 503.4,390.4 504.2,390.4 504.9,390.4 505.7,390.4 506.4,390.4 507.2,390.4 507.9,390.4 508.7,390.4 509.4,390.4 510.2,390.4 510.9,390.4 511.6,390.4 512.4,390.3 513.1,390.3 513.9,390.3 514.6,390.3 515.4,390.3 516.1,390.3 516.8,390.3 517.6,390.2 518.3,390.2 519.0,390.2 519.8,390.2 520.5,390.1 521.3,390.1 522.0,390.1 522.8,390.0 523.5,390.0 524.2,390.0 525.0,389.9 525.7,389.9 526.5,389.9 527.2,389.8 527.9,389.8 528.7,389.7 529.4,389.7 530.1,389.6 530.8,389.6 531.6,389.5 532.3,389.5 533.0,389.4 533.7,389.3 534.5,389.3 535.2,389.2 535.9,389.1 536.6,389.0 537.4,388.9 538.1,388.8 538.8,388.8 539.5,388.7 540.2,388.6 540.9,388.5 541.6,388.4 542.4,388.2 543.1,388.1 543.8,388.0 544.5,387.9 545.2,387.8 545.9,387.6 546.6,387.5 547.4,387.3 548.1,387.2 548.8,387.1 549.5,386.9 550.3,386.8 551.0,386.6 551.7,386.5 552.5,386.3 553.2,386.2 554.0,386.0 554.7,385.9 555.5,385.7 556.2,385.6 557.0,385.4 557.7,385.3 558.5,385.1 559.3,385.0 560.1,384.9 560.6,384.8" fill="#E4D6B8"/>
<polyline points="475.2,402.1 469.6,395.5 475.1,388.8" fill="none" stroke="#fff" stroke-width="2.4" stroke-linejoin="miter"/>
<polygon points="360.4,400.6 359.7,400.6 358.9,400.6 358.1,400.6 357.4,400.6 356.6,400.6 355.9,400.6 355.1,400.6 354.4,400.6 353.6,400.6 352.9,400.6 352.1,400.6 351.4,400.6 350.6,400.6 349.9,400.6 349.1,400.6 348.4,400.5 347.6,400.5 346.9,400.5 346.1,400.5 345.4,400.5 344.6,400.5 343.9,400.5 343.1,400.5 342.4,400.5 341.6,400.5 340.9,400.5 340.1,400.5 339.4,400.5 338.6,400.5 337.9,400.5 337.1,400.5 336.3,400.5 335.6,400.5 334.8,400.5 334.1,400.5 333.3,400.5 332.6,400.5 331.8,400.5 331.1,400.5 330.3,400.5 329.6,400.5 328.8,400.5 328.1,400.5 327.3,400.5 326.6,400.5 325.8,400.5 325.1,400.5 324.3,400.5 323.6,400.5 322.8,400.5 322.1,400.5 321.3,400.5 320.6,400.5 319.8,400.5 319.1,400.5 318.3,400.5 317.6,400.5 316.8,400.5 316.1,400.5 315.3,400.5 314.5,400.5 313.8,400.5 313.0,400.5 312.3,400.5 311.5,400.5 310.8,400.5 310.0,400.5 309.3,400.5 308.5,400.5 307.8,400.5 307.0,400.5 306.3,400.5 305.5,400.5 304.8,400.5 304.0,400.5 303.3,400.5 302.5,400.5 301.8,400.5 301.0,400.5 300.3,400.5 299.5,400.4 298.8,400.4 298.0,400.4 297.3,400.4 296.5,400.4 295.8,400.4 295.0,400.4 294.3,400.4 293.5,400.4 292.8,400.4 292.0,400.5 291.3,400.5 290.5,400.5 289.8,400.5 289.0,400.5 288.3,400.5 287.5,400.5 286.8,400.5 286.0,400.5 285.3,400.5 284.5,400.5 283.8,400.5 283.0,400.5 282.3,400.5 281.5,400.5 280.8,400.5 280.0,400.5 279.2,400.5 278.5,400.5 277.7,400.5 277.0,400.5 276.2,400.5 275.5,400.5 274.7,400.5 274.0,400.5 273.2,400.5 272.5,400.5 271.7,400.5 271.0,400.5 270.2,400.5 269.5,400.5 268.7,400.5 267.9,400.5 267.2,400.5 266.4,400.5 265.7,400.5 264.9,400.5 264.2,400.5 263.4,400.5 262.7,400.5 261.9,400.5 261.2,400.5 260.4,400.5 259.6,400.5 258.9,400.5 258.1,400.5 257.4,400.5 256.6,400.5 255.9,400.5 255.1,400.4 254.3,400.4 253.6,400.4 252.8,400.4 252.1,400.4 251.3,400.4 250.6,400.4 249.8,400.3 249.0,400.3 248.3,400.3 247.5,400.3 246.8,400.3 246.0,400.3 245.2,400.2 244.5,400.2 243.7,400.2 243.0,400.2 242.2,400.1 242.2,400.1 242.6,389.8 243.3,389.9 244.1,389.9 244.8,389.9 245.6,389.9 246.3,390.0 247.0,390.0 247.8,390.0 248.5,390.0 249.3,390.0 250.0,390.0 250.8,390.1 251.5,390.1 252.3,390.1 253.0,390.1 253.7,390.1 254.5,390.1 255.2,390.1 256.0,390.2 256.7,390.2 257.5,390.2 258.2,390.2 259.0,390.2 259.7,390.2 260.5,390.2 261.2,390.2 262.0,390.2 262.7,390.2 263.5,390.2 264.2,390.2 265.0,390.2 265.7,390.2 266.5,390.2 267.2,390.2 268.0,390.2 268.7,390.2 269.4,390.2 270.2,390.2 270.9,390.2 271.7,390.2 272.4,390.2 273.2,390.2 273.9,390.2 274.7,390.2 275.5,390.2 276.2,390.2 277.0,390.2 277.7,390.2 278.5,390.2 279.2,390.2 280.0,390.2 280.7,390.2 281.5,390.2 282.2,390.2 283.0,390.2 283.7,390.2 284.5,390.2 285.2,390.2 286.0,390.2 286.7,390.2 287.5,390.2 288.2,390.2 289.0,390.2 289.7,390.2 290.5,390.2 291.2,390.2 292.0,390.2 292.8,390.1 293.5,390.1 294.3,390.1 295.0,390.1 295.8,390.1 296.5,390.1 297.3,390.1 298.0,390.1 298.8,390.1 299.5,390.1 300.3,390.2 301.0,390.2 301.8,390.2 302.5,390.2 303.3,390.2 304.0,390.2 304.8,390.2 305.5,390.2 306.3,390.2 307.1,390.2 307.8,390.2 308.6,390.2 309.3,390.2 310.1,390.2 310.8,390.2 311.6,390.2 312.3,390.2 313.1,390.2 313.8,390.2 314.6,390.2 315.3,390.2 316.1,390.2 316.8,390.2 317.6,390.2 318.3,390.2 319.1,390.2 319.8,390.2 320.6,390.2 321.3,390.2 322.1,390.2 322.8,390.2 323.6,390.2 324.3,390.2 325.1,390.2 325.8,390.2 326.6,390.2 327.3,390.2 328.1,390.2 328.9,390.2 329.6,390.2 330.4,390.2 331.1,390.2 331.9,390.2 332.6,390.2 333.4,390.2 334.1,390.2 334.9,390.2 335.6,390.2 336.4,390.2 337.1,390.2 337.9,390.2 338.6,390.2 339.4,390.2 340.1,390.2 340.9,390.2 341.6,390.2 342.4,390.2 343.1,390.2 343.9,390.2 344.6,390.2 345.4,390.2 346.1,390.2 346.9,390.2 347.6,390.2 348.4,390.2 349.1,390.3 349.9,390.3 350.7,390.3 351.4,390.3 352.2,390.3 352.9,390.3 353.7,390.3 354.4,390.3 355.2,390.3 355.9,390.3 356.7,390.3 357.4,390.3 358.2,390.3 358.9,390.3 359.7,390.3 360.4,390.3 360.4,390.3" fill="#E4D6B8"/>
<polyline points="307.0,402.0 301.5,395.3 307.0,388.7" fill="none" stroke="#fff" stroke-width="2.4" stroke-linejoin="miter"/>
<polygon points="174.8,361.8 174.2,361.2 173.7,360.7 173.1,360.1 172.5,359.5 171.9,358.9 171.4,358.2 170.8,357.6 170.3,357.0 169.8,356.4 169.4,355.8 168.9,355.2 168.4,354.7 167.9,354.1 167.5,353.5 167.0,353.0 166.5,352.4 166.0,351.8 165.5,351.2 165.0,350.6 164.5,350.1 164.0,349.5 163.6,348.9 163.1,348.3 162.6,347.7 162.1,347.1 161.6,346.5 161.1,345.9 160.7,345.3 160.2,344.7 159.7,344.1 159.2,343.5 158.8,342.9 158.3,342.2 157.8,341.6 157.4,341.0 156.9,340.4 156.5,339.8 156.0,339.1 155.5,338.5 155.1,337.9 154.7,337.3 154.2,336.6 153.8,336.0 153.3,335.3 152.9,334.7 152.5,334.1 152.0,333.4 151.6,332.8 151.2,332.1 150.7,331.5 150.3,330.8 149.9,330.2 149.5,329.5 149.1,328.9 148.7,328.2 148.3,327.6 147.9,326.9 147.5,326.2 147.1,325.6 146.7,324.9 146.3,324.2 145.9,323.6 145.5,322.9 145.1,322.2 144.7,321.5 144.4,320.8 144.0,320.2 143.6,319.5 143.3,318.8 142.9,318.1 142.5,317.4 142.2,316.7 141.8,316.0 141.5,315.3 141.1,314.7 140.8,314.0 140.5,313.3 140.1,312.6 139.8,311.9 139.5,311.1 139.1,310.4 138.8,309.7 138.5,309.0 138.2,308.3 137.9,307.6 137.6,306.8 137.3,306.1 137.0,305.3 136.7,304.6 136.4,303.8 136.1,303.0 135.9,302.3 135.6,301.5 135.4,300.7 135.1,300.0 134.9,299.3 134.7,298.5 134.5,297.8 134.3,297.1 134.0,296.4 133.8,295.7 133.6,295.0 133.4,294.3 133.2,293.6 132.9,292.9 132.7,292.1 132.5,291.4 132.2,290.7 132.0,289.9 131.8,289.2 131.6,288.4 131.3,287.6 131.1,286.9 130.9,286.1 130.7,285.3 130.6,284.5 130.4,283.8 130.2,283.0 130.1,282.3 129.9,281.5 129.7,280.8 129.6,280.0 129.4,279.2 129.3,278.5 129.1,277.7 129.0,277.0 128.8,276.2 128.7,275.5 128.6,274.7 128.4,273.9 128.3,273.2 128.2,272.4 128.0,271.7 127.9,270.9 127.8,270.1 127.7,269.4 127.5,268.6 127.4,267.8 127.3,267.1 127.2,266.3 127.1,265.5 127.0,264.7 126.9,264.0 126.9,263.2 126.8,262.4 126.7,261.6 126.6,260.8 126.6,260.0 126.5,259.2 126.5,258.4 126.4,257.7 126.4,256.9 126.4,256.1 126.3,255.3 126.3,254.5 126.3,253.7 126.3,252.9 126.3,252.2 126.3,251.4 126.3,250.6 126.3,249.8 126.3,249.1 126.3,248.3 126.3,247.5 126.4,246.7 126.4,245.9 126.4,245.2 126.4,244.4 126.5,243.6 126.5,242.9 126.6,242.1 126.6,241.3 126.7,240.5 126.7,239.8 126.8,239.0 126.8,238.2 126.9,237.5 126.9,236.7 127.0,235.9 127.1,235.2 127.1,234.4 127.2,233.7 127.3,232.9 127.3,232.1 127.4,231.4 127.5,230.6 127.6,229.8 127.7,229.1 127.7,228.3 127.8,227.5 127.9,226.8 128.0,226.0 128.1,225.2 128.2,224.5 128.3,223.7 128.5,222.9 128.6,222.1 128.7,221.4 128.8,220.6 129.0,219.8 129.1,219.0 129.3,218.2 129.4,217.5 129.6,216.7 129.7,216.1 139.8,218.4 139.6,219.1 139.5,219.8 139.3,220.5 139.2,221.2 139.1,221.9 138.9,222.6 138.8,223.3 138.7,224.0 138.6,224.7 138.5,225.4 138.4,226.1 138.3,226.8 138.2,227.6 138.1,228.3 138.0,229.0 138.0,229.7 137.9,230.5 137.8,231.2 137.7,231.9 137.6,232.6 137.6,233.4 137.5,234.1 137.4,234.8 137.4,235.6 137.3,236.3 137.2,237.1 137.2,237.8 137.1,238.5 137.1,239.3 137.0,240.0 137.0,240.7 136.9,241.4 136.9,242.2 136.8,242.9 136.8,243.6 136.8,244.4 136.7,245.1 136.7,245.8 136.7,246.6 136.6,247.3 136.6,248.0 136.6,248.7 136.6,249.5 136.6,250.2 136.6,250.9 136.6,251.6 136.6,252.3 136.6,253.1 136.6,253.8 136.6,254.5 136.6,255.2 136.7,255.9 136.7,256.7 136.7,257.4 136.8,258.1 136.8,258.8 136.9,259.5 136.9,260.2 137.0,260.9 137.1,261.6 137.1,262.3 137.2,263.1 137.3,263.8 137.4,264.5 137.5,265.2 137.6,265.9 137.7,266.6 137.8,267.4 137.9,268.1 138.0,268.8 138.1,269.5 138.2,270.2 138.3,270.9 138.5,271.7 138.6,272.4 138.7,273.1 138.9,273.8 139.0,274.6 139.1,275.3 139.3,276.0 139.4,276.7 139.6,277.4 139.7,278.1 139.9,278.9 140.0,279.6 140.2,280.3 140.3,281.0 140.5,281.7 140.7,282.4 140.8,283.1 141.0,283.8 141.2,284.5 141.3,285.1 141.5,285.8 141.7,286.5 141.9,287.2 142.1,287.9 142.4,288.6 142.6,289.3 142.8,290.0 143.0,290.7 143.3,291.4 143.5,292.1 143.7,292.9 144.0,293.6 144.2,294.3 144.4,295.1 144.6,295.8 144.8,296.5 145.1,297.2 145.3,297.9 145.5,298.6 145.7,299.2 145.9,299.9 146.2,300.5 146.4,301.2 146.6,301.8 146.9,302.5 147.2,303.1 147.5,303.8 147.7,304.4 148.0,305.1 148.3,305.7 148.6,306.4 148.9,307.0 149.2,307.7 149.5,308.4 149.8,309.0 150.2,309.7 150.5,310.3 150.8,311.0 151.1,311.6 151.5,312.3 151.8,312.9 152.1,313.5 152.5,314.2 152.8,314.8 153.2,315.5 153.5,316.1 153.9,316.7 154.2,317.4 154.6,318.0 154.9,318.6 155.3,319.3 155.7,319.9 156.0,320.5 156.4,321.1 156.8,321.8 157.2,322.4 157.6,323.0 157.9,323.6 158.3,324.2 158.7,324.9 159.1,325.5 159.5,326.1 159.9,326.7 160.3,327.3 160.7,327.9 161.1,328.5 161.5,329.1 161.9,329.7 162.4,330.3 162.8,330.9 163.2,331.5 163.6,332.1 164.1,332.7 164.5,333.3 164.9,333.9 165.3,334.5 165.8,335.1 166.2,335.6 166.7,336.2 167.1,336.8 167.5,337.4 168.0,338.0 168.4,338.5 168.9,339.1 169.3,339.7 169.8,340.2 170.3,340.8 170.7,341.4 171.2,342.0 171.7,342.5 172.1,343.1 172.6,343.7 173.1,344.2 173.6,344.8 174.0,345.4 174.5,346.0 175.0,346.5 175.5,347.1 176.0,347.7 176.5,348.3 177.0,348.9 177.5,349.4 177.9,350.0 178.4,350.6 178.8,351.1 179.3,351.6 179.7,352.1 180.2,352.6 180.6,353.0 181.1,353.5 181.6,354.0 182.0,354.4" fill="#E4D6B8"/>
<polyline points="133.0,298.1 137.7,290.8 145.7,294.1" fill="none" stroke="#fff" stroke-width="2.4" stroke-linejoin="miter"/>
<polygon points="165.2,148.0 165.7,147.4 166.3,146.8 166.8,146.2 167.3,145.6 167.8,145.0 168.4,144.4 168.9,143.8 169.5,143.2 170.0,142.7 170.6,142.1 171.2,141.5 171.7,141.0 172.3,140.4 172.9,139.8 173.5,139.3 174.1,138.7 174.7,138.2 175.3,137.7 176.0,137.2 176.6,136.7 177.2,136.2 177.8,135.7 178.5,135.2 179.1,134.7 179.8,134.2 180.4,133.8 181.0,133.3 181.7,132.9 182.3,132.4 183.0,132.0 183.6,131.5 184.2,131.1 184.9,130.7 185.5,130.3 186.2,129.8 186.8,129.4 187.5,129.0 188.1,128.6 188.8,128.2 189.4,127.8 190.0,127.4 190.7,127.0 191.3,126.6 191.9,126.2 192.6,125.8 193.2,125.4 193.8,125.0 194.5,124.6 195.1,124.1 195.8,123.7 196.4,123.3 197.1,122.9 197.8,122.5 198.4,122.1 199.1,121.7 199.7,121.3 200.4,121.0 201.0,120.6 201.7,120.2 202.4,119.8 203.0,119.4 203.7,119.0 204.4,118.7 205.0,118.3 205.7,117.9 206.4,117.5 207.0,117.2 207.7,116.8 208.4,116.4 209.1,116.1 209.7,115.7 210.4,115.3 211.1,115.0 211.8,114.6 212.5,114.3 213.1,113.9 213.8,113.6 214.5,113.2 215.2,112.9 215.8,112.6 216.5,112.2 217.2,111.9 217.9,111.5 218.6,111.2 219.3,110.8 220.0,110.5 220.7,110.2 221.4,109.8 222.1,109.5 222.8,109.2 223.6,108.8 224.3,108.5 225.0,108.2 225.8,107.9 226.6,107.6 227.3,107.3 228.1,107.0 228.9,106.8 229.6,106.5 230.4,106.3 231.2,106.0 232.0,105.8 232.8,105.6 233.5,105.4 234.3,105.2 235.1,105.0 235.8,104.8 236.6,104.6 237.4,104.5 238.2,104.3 238.9,104.1 239.7,104.0 240.5,103.8 241.2,103.7 242.0,103.6 242.7,103.4 243.5,103.3 244.3,103.2 245.0,103.0 245.8,102.9 246.6,102.8 247.3,102.7 248.1,102.6 248.8,102.5 249.6,102.3 250.3,102.2 251.1,102.1 251.9,102.0 252.7,101.9 253.4,101.8 254.2,101.7 255.0,101.7 255.8,101.6 256.5,101.5 257.3,101.4 258.1,101.4 258.9,101.3 259.6,101.3 260.4,101.2 261.2,101.1 261.9,101.1 262.7,101.0 263.5,101.0 264.2,100.9 265.0,100.9 265.7,100.9 266.5,100.8 267.2,100.8 268.0,100.7 268.7,100.7 269.5,100.6 270.2,100.6 271.0,100.6 271.7,100.5 272.5,100.5 273.2,100.4 274.0,100.4 274.7,100.3 275.5,100.3 276.3,100.3 277.0,100.2 277.8,100.2 277.8,100.2 278.2,110.5 277.5,110.5 276.8,110.6 276.0,110.6 275.3,110.6 274.5,110.7 273.8,110.7 273.1,110.8 272.3,110.8 271.6,110.8 270.8,110.9 270.1,110.9 269.3,111.0 268.6,111.0 267.8,111.1 267.1,111.1 266.3,111.1 265.6,111.2 264.8,111.2 264.1,111.3 263.3,111.3 262.6,111.4 261.9,111.4 261.1,111.5 260.4,111.5 259.7,111.6 259.0,111.6 258.2,111.7 257.5,111.8 256.8,111.8 256.1,111.9 255.3,112.0 254.6,112.1 253.9,112.1 253.2,112.2 252.5,112.3 251.8,112.4 251.1,112.5 250.3,112.6 249.6,112.8 248.9,112.9 248.1,113.0 247.4,113.1 246.7,113.2 246.0,113.3 245.3,113.4 244.5,113.6 243.8,113.7 243.1,113.8 242.4,114.0 241.7,114.1 241.0,114.2 240.3,114.4 239.6,114.5 238.9,114.7 238.2,114.9 237.5,115.0 236.8,115.2 236.1,115.4 235.5,115.5 234.8,115.7 234.1,115.9 233.5,116.1 232.8,116.3 232.2,116.5 231.5,116.8 230.9,117.0 230.2,117.2 229.6,117.5 228.9,117.7 228.3,118.0 227.7,118.3 227.0,118.6 226.4,118.9 225.7,119.2 225.1,119.5 224.5,119.8 223.8,120.1 223.1,120.4 222.5,120.7 221.8,121.1 221.2,121.4 220.5,121.7 219.8,122.1 219.2,122.4 218.5,122.8 217.8,123.1 217.2,123.4 216.5,123.8 215.9,124.1 215.2,124.4 214.6,124.8 213.9,125.1 213.3,125.5 212.7,125.8 212.0,126.2 211.4,126.5 210.7,126.9 210.1,127.3 209.4,127.6 208.8,128.0 208.2,128.4 207.5,128.7 206.9,129.1 206.2,129.5 205.6,129.8 205.0,130.2 204.4,130.6 203.7,131.0 203.1,131.3 202.5,131.7 201.8,132.1 201.2,132.5 200.6,132.9 200.0,133.3 199.4,133.7 198.7,134.1 198.1,134.5 197.4,134.9 196.8,135.3 196.2,135.7 195.5,136.1 194.9,136.5 194.3,136.9 193.7,137.3 193.0,137.7 192.4,138.1 191.8,138.5 191.2,138.9 190.6,139.3 190.0,139.7 189.4,140.1 188.8,140.5 188.2,140.9 187.6,141.3 187.0,141.7 186.4,142.1 185.8,142.6 185.3,143.0 184.7,143.4 184.1,143.8 183.6,144.2 183.0,144.7 182.5,145.1 182.0,145.6 181.4,146.0 180.9,146.5 180.4,146.9 179.9,147.4 179.4,147.9 178.9,148.3 178.4,148.8 177.9,149.3 177.4,149.8 176.9,150.3 176.4,150.8 176.0,151.4 175.5,151.9 175.0,152.4 174.6,152.9 174.1,153.5 173.7,154.0 173.2,154.5 173.2,154.5" fill="#E4D6B8"/>
<polyline points="210.9,113.4 218.8,116.8 216.9,125.2" fill="none" stroke="#fff" stroke-width="2.4" stroke-linejoin="miter"/>
</g>
<g id="ribbon">
<polygon points="217.4,226.7 217.7,225.0 218.1,223.3 218.6,221.6 219.0,219.9 219.5,218.2 220.0,216.5 220.6,214.8 221.2,213.1 221.8,211.5 222.4,209.8 223.1,208.2 223.8,206.6 224.5,205.0 225.2,203.4 226.0,201.8 226.8,200.2 227.7,198.6 228.5,197.1 229.4,195.6 230.3,194.1 231.3,192.6 232.2,191.1 233.2,189.6 234.3,188.2 235.3,186.8 236.4,185.4 237.5,184.0 238.6,182.6 239.7,181.2 240.9,179.9 242.1,178.6 243.3,177.3 244.5,176.0 245.7,174.8 247.0,173.5 248.3,172.3 249.6,171.2 251.0,170.0 252.3,168.9 253.7,167.7 255.1,166.7 256.5,165.6 257.9,164.6 259.4,163.5 260.8,162.6 262.3,161.6 263.8,160.7 265.4,159.7 266.9,158.9 268.4,158.0 270.0,157.2 271.6,156.4 273.2,155.6 274.8,154.9 276.4,154.1 278.0,153.4 279.7,152.8 281.3,152.2 283.0,151.6 284.7,151.0 286.4,150.4 288.1,149.9 289.8,149.4 291.5,149.0 293.2,148.6 294.9,148.2 296.7,147.8 298.4,147.5 300.2,147.2 301.9,146.9 303.7,146.7 305.4,146.4 307.2,146.3 309.0,146.1 310.7,146.0 312.5,145.9 314.3,145.8 316.1,145.8 317.8,145.8 319.6,145.8 321.4,145.8 323.2,145.9 324.9,145.9 326.7,146.0 328.5,146.1 330.3,146.3 332.1,146.4 333.8,146.6 335.6,146.9 337.4,147.1 339.2,147.4 340.9,147.8 342.7,148.1 344.5,148.5 346.2,148.9 348.0,149.4 349.7,149.9 351.4,150.4 353.2,150.9 354.9,151.5 356.6,152.1 358.2,152.7 359.4,153.1 360.6,153.5 361.8,153.9 363.0,154.3 364.2,154.7 365.4,155.2 366.5,155.6 367.7,156.0 368.9,156.5 370.0,156.9 371.2,157.4 372.4,157.8 373.6,158.3 374.8,158.7 376.0,159.1 377.2,159.5 378.5,159.8 379.7,160.2 380.9,160.5 382.2,160.8 383.4,161.2 384.7,161.4 385.9,161.7 387.2,162.0 388.4,162.2 389.7,162.4 391.0,162.6 392.3,162.8 392.5,162.8 402.4,178.4 391.4,193.2 389.7,193.0 388.0,192.8 386.3,192.5 384.7,192.3 383.0,192.0 381.3,191.7 379.7,191.3 378.0,191.0 376.4,190.6 374.7,190.2 373.1,189.8 371.5,189.3 369.8,188.9 368.2,188.4 366.6,187.9 365.0,187.4 363.4,186.8 361.9,186.2 360.3,185.7 358.7,185.1 357.2,184.5 355.6,183.9 354.0,183.4 352.5,182.8 350.9,182.2 349.3,181.7 347.8,181.1 346.2,180.5 344.9,180.0 343.7,179.6 342.5,179.2 341.2,178.8 340.0,178.4 338.8,178.1 337.5,177.8 336.3,177.5 335.1,177.2 333.8,177.0 332.6,176.8 331.3,176.6 330.1,176.4 328.8,176.2 327.5,176.1 326.3,176.0 325.0,175.9 323.8,175.8 322.5,175.8 321.3,175.7 320.0,175.7 318.7,175.7 317.5,175.7 316.2,175.7 315.0,175.8 313.8,175.8 312.5,175.9 311.3,176.0 310.0,176.1 308.8,176.3 307.5,176.4 306.3,176.6 305.1,176.8 303.8,177.1 302.6,177.3 301.4,177.6 300.2,177.9 299.0,178.2 297.8,178.5 296.6,178.9 295.4,179.2 294.2,179.6 293.1,180.0 291.9,180.5 290.7,180.9 289.6,181.4 288.4,181.9 287.3,182.4 286.2,182.9 285.1,183.4 284.0,184.0 282.9,184.6 281.8,185.2 280.7,185.8 279.7,186.5 278.6,187.1 277.6,187.8 276.6,188.5 275.5,189.2 274.5,189.9 273.6,190.7 272.6,191.4 271.6,192.2 270.7,193.0 269.8,193.8 268.8,194.7 267.9,195.5 267.0,196.4 266.2,197.3 265.3,198.2 264.5,199.1 263.7,200.0 262.9,200.9 262.1,201.9 261.3,202.8 260.5,203.8 259.8,204.8 259.1,205.8 258.3,206.8 257.6,207.8 257.0,208.8 256.3,209.9 255.7,210.9 255.0,212.0 254.4,213.1 253.9,214.1 253.3,215.2 252.7,216.3 252.2,217.5 251.7,218.6 251.2,219.7 250.7,220.9 250.3,222.0 249.9,223.2 249.5,224.3 249.1,225.5 248.7,226.7 248.4,227.9 248.0,229.0 247.7,230.2 247.4,231.5 247.2,232.7 247.1,232.9 234.4,219.5" fill="#9EC6C8"/>
<polygon points="395.7,163.0 397.0,163.0 398.3,163.0 399.6,162.9 400.9,162.8 402.2,162.6 403.4,162.4 404.7,162.2 406.0,161.9 407.2,161.7 408.5,161.4 409.7,161.1 411.0,160.8 412.2,160.5 413.5,160.1 414.7,159.8 415.9,159.4 417.1,159.0 418.3,158.6 419.5,158.2 420.7,157.7 421.9,157.3 423.1,156.8 424.3,156.3 425.4,155.8 426.6,155.3 427.7,154.8 428.9,154.2 430.0,153.7 431.1,153.1 432.3,152.6 433.4,152.1 434.9,151.4 436.6,150.7 438.3,150.0 440.0,149.4 441.7,148.8 443.5,148.2 445.2,147.7 447.0,147.2 448.7,146.7 450.5,146.3 452.3,145.9 454.1,145.5 455.9,145.2 457.7,144.9 459.5,144.6 461.3,144.3 463.1,144.1 464.9,144.0 466.7,143.8 468.5,143.7 470.3,143.6 472.1,143.6 474.0,143.6 475.8,143.6 477.6,143.7 479.4,143.7 481.2,143.9 483.0,144.0 484.8,144.2 486.6,144.4 488.4,144.6 490.2,144.9 492.0,145.2 493.8,145.6 495.5,145.9 497.3,146.3 499.0,146.8 500.8,147.2 502.5,147.7 504.2,148.2 506.0,148.8 507.7,149.4 509.4,150.0 511.0,150.6 512.7,151.3 514.4,152.0 516.0,152.7 517.6,153.5 519.3,154.3 520.8,155.1 522.4,156.0 524.0,156.8 525.5,157.7 527.1,158.6 528.6,159.6 530.1,160.6 531.6,161.6 533.1,162.6 534.5,163.7 535.9,164.7 537.3,165.8 538.7,167.0 540.1,168.1 541.4,169.3 542.7,170.5 544.0,171.7 545.3,172.9 546.6,174.2 547.8,175.5 549.0,176.8 550.2,178.1 551.4,179.4 552.6,180.8 553.7,182.2 554.8,183.5 555.9,184.9 556.9,186.4 558.0,187.8 559.0,189.3 560.0,190.7 561.0,192.2 561.9,193.7 562.0,194.0 554.4,211.0 535.8,210.1 535.2,209.1 534.5,208.0 533.8,207.0 533.1,206.0 532.4,205.0 531.6,204.0 530.9,203.1 530.1,202.1 529.3,201.2 528.5,200.2 527.7,199.3 526.8,198.4 526.0,197.5 525.1,196.7 524.2,195.8 523.3,195.0 522.4,194.2 521.4,193.4 520.5,192.6 519.5,191.8 518.5,191.0 517.6,190.3 516.6,189.6 515.5,188.9 514.5,188.2 513.5,187.5 512.4,186.9 511.4,186.2 510.3,185.6 509.2,185.0 508.1,184.5 507.0,183.9 505.9,183.4 504.8,182.9 503.7,182.4 502.5,181.9 501.4,181.4 500.2,181.0 499.1,180.6 497.9,180.2 496.7,179.8 495.5,179.4 494.4,179.1 493.2,178.8 492.0,178.4 490.8,178.1 489.6,177.9 488.4,177.6 487.1,177.4 485.9,177.2 484.7,177.0 483.5,176.8 482.2,176.6 481.0,176.5 479.8,176.4 478.5,176.3 477.3,176.3 476.1,176.2 474.8,176.2 473.6,176.2 472.3,176.2 471.1,176.3 469.8,176.3 468.6,176.4 467.3,176.4 466.1,176.5 464.8,176.5 463.6,176.6 462.3,176.7 461.0,176.8 459.8,176.9 458.5,177.1 457.2,177.2 456.0,177.4 454.7,177.6 453.5,177.8 452.2,178.1 450.9,178.4 449.7,178.7 448.4,179.1 447.2,179.5 446.0,179.9 444.4,180.6 442.9,181.2 441.4,181.9 439.9,182.6 438.3,183.2 436.8,183.9 435.3,184.6 433.7,185.2 432.2,185.8 430.6,186.4 429.0,187.0 427.4,187.5 425.8,188.0 424.2,188.5 422.6,189.0 421.0,189.5 419.4,189.9 417.7,190.4 416.1,190.7 414.4,191.1 412.8,191.5 411.1,191.8 409.4,192.1 407.8,192.4 406.1,192.7 404.4,192.9 402.7,193.1 401.0,193.3 399.3,193.4 397.6,193.4 395.9,193.4 395.6,193.4 406.2,178.3" fill="#D7A9A2"/>
<polygon points="564.3,197.8 565.1,199.4 565.9,201.0 566.7,202.5 567.4,204.2 568.2,205.8 568.9,207.4 569.5,209.0 570.2,210.7 570.8,212.3 571.4,214.0 571.9,215.7 572.4,217.4 572.9,219.1 573.4,220.8 573.8,222.5 574.2,224.3 574.6,226.0 574.9,227.7 575.2,229.5 575.5,231.2 575.8,233.0 576.0,234.7 576.2,236.5 576.4,238.2 576.6,240.0 576.8,241.7 576.9,243.5 577.1,245.3 577.2,247.1 577.3,248.8 577.3,250.6 577.4,252.4 577.4,254.2 577.3,256.0 577.3,257.8 577.2,259.5 577.0,261.3 576.9,263.1 576.7,264.9 576.5,266.7 576.2,268.5 575.9,270.3 575.6,272.0 575.2,273.8 574.9,275.6 574.5,277.3 574.0,279.1 573.5,280.8 573.0,282.6 572.5,284.3 571.9,286.1 571.4,287.8 570.7,289.5 570.1,291.2 569.4,292.9 568.7,294.6 567.9,296.2 567.1,297.9 566.3,299.6 565.5,301.2 564.6,302.8 563.7,304.4 562.7,306.0 561.7,307.5 560.7,309.1 559.6,310.5 558.5,312.0 557.3,313.4 556.1,314.8 554.9,316.2 553.6,317.5 552.3,318.8 551.0,320.1 549.6,321.4 548.3,322.6 546.9,323.8 545.5,325.0 544.1,326.1 542.7,327.3 541.2,328.4 539.7,329.4 538.2,330.5 536.6,331.5 535.1,332.4 533.5,333.3 531.9,334.2 530.3,335.1 528.7,335.9 527.1,336.7 525.4,337.5 523.8,338.2 522.1,338.9 520.4,339.6 518.7,340.3 517.1,340.9 515.3,341.5 513.7,342.1 512.0,342.7 510.2,343.2 508.5,343.8 506.8,344.3 505.1,344.8 503.4,345.2 501.6,345.7 499.9,346.1 498.1,346.4 496.4,346.8 494.6,347.1 492.9,347.3 491.1,347.6 489.3,347.8 487.5,348.0 485.8,348.2 484.0,348.3 482.2,348.4 480.4,348.5 478.6,348.6 477.2,348.7 466.5,333.5 476.8,318.2 478.1,318.2 479.3,318.2 480.6,318.1 481.8,318.0 483.1,317.9 484.3,317.8 485.5,317.7 486.8,317.5 488.0,317.3 489.3,317.1 490.5,316.8 491.7,316.5 492.9,316.3 494.1,316.0 495.3,315.6 496.5,315.3 497.7,314.9 498.9,314.5 500.1,314.1 501.3,313.6 502.4,313.2 503.6,312.7 504.7,312.2 505.8,311.6 507.0,311.1 508.1,310.5 509.2,309.9 510.2,309.3 511.3,308.6 512.4,308.0 513.4,307.3 514.5,306.6 515.5,305.9 516.5,305.2 517.5,304.4 518.5,303.7 519.4,302.9 520.4,302.1 521.3,301.3 522.3,300.5 523.2,299.6 524.1,298.7 524.9,297.9 525.8,297.0 526.7,296.1 527.5,295.2 528.3,294.2 529.1,293.3 529.9,292.3 530.6,291.4 531.4,290.4 532.1,289.4 532.9,288.4 533.6,287.4 534.3,286.4 534.9,285.3 535.6,284.3 536.2,283.2 536.9,282.2 537.5,281.1 538.1,280.0 538.6,278.9 539.2,277.8 539.7,276.7 540.2,275.6 540.7,274.5 541.2,273.3 541.6,272.2 542.1,271.0 542.5,269.9 542.9,268.7 543.2,267.5 543.6,266.3 543.9,265.1 544.2,263.9 544.5,262.7 544.8,261.5 545.0,260.3 545.2,259.1 545.5,257.9 545.6,256.7 545.8,255.4 545.9,254.2 546.0,253.0 546.1,251.8 546.2,250.5 546.3,249.3 546.3,248.1 546.3,246.8 546.3,245.6 546.2,244.4 546.2,243.1 546.1,241.9 546.0,240.7 545.9,239.4 545.7,238.2 545.6,237.0 545.4,235.8 545.2,234.6 545.0,233.4 544.7,232.1 544.4,230.9 544.1,229.7 543.8,228.5 543.5,227.4 543.1,226.2 542.8,225.0 542.4,223.8 542.0,222.7 541.5,221.5 541.1,220.4 540.6,219.2 540.1,218.1 539.6,217.0 539.0,215.9 538.5,214.8 537.9,213.7 537.4,212.8 555.9,214.5" fill="#DBBB8A"/>
<polygon points="472.7,348.8 470.9,348.8 469.1,348.7 467.3,348.7 465.5,348.6 463.7,348.4 462.0,348.3 460.2,348.1 458.4,347.8 456.6,347.6 454.9,347.3 453.1,346.9 451.3,346.5 449.6,346.1 447.9,345.6 446.1,345.0 444.4,344.4 442.8,343.8 441.1,343.1 439.4,342.4 437.8,341.7 436.2,340.9 434.6,340.1 433.0,339.3 431.8,338.7 430.7,338.1 429.6,337.5 428.4,337.0 427.3,336.4 426.1,335.9 424.9,335.4 423.8,334.9 422.6,334.4 421.4,334.0 420.2,333.6 419.0,333.2 417.8,332.8 416.5,332.4 415.3,332.1 414.1,331.8 412.8,331.5 411.5,331.3 410.3,331.1 409.0,330.9 407.7,330.7 406.5,330.5 405.2,330.4 403.9,330.3 402.7,330.1 401.4,330.0 400.1,329.9 398.8,329.8 397.6,329.7 396.3,329.6 395.0,329.4 393.7,329.2 392.4,329.1 391.1,328.9 389.8,328.7 388.5,328.6 387.2,328.5 385.8,328.4 384.5,328.4 383.2,328.4 381.9,328.5 380.5,328.6 379.2,328.8 377.9,329.1 376.7,329.4 375.4,329.7 374.1,330.1 372.9,330.5 371.6,330.9 370.4,331.3 369.1,331.8 367.9,332.2 366.7,332.7 365.5,333.2 364.3,333.7 363.1,334.2 361.9,334.8 360.7,335.4 359.5,335.9 358.4,336.5 357.0,337.3 355.4,338.1 353.8,338.8 352.3,339.5 350.6,340.2 349.0,340.9 347.4,341.6 345.8,342.2 344.1,342.8 342.5,343.3 340.8,343.9 339.1,344.4 337.4,344.9 335.7,345.3 334.0,345.7 332.3,346.1 330.6,346.5 328.8,346.8 327.9,347.0 315.7,333.2 324.3,316.9 325.6,316.7 326.8,316.5 328.0,316.3 329.2,316.0 330.4,315.8 331.6,315.5 332.8,315.3 334.0,315.0 335.2,314.6 336.4,314.3 337.6,313.9 338.7,313.5 339.9,313.1 341.1,312.7 342.2,312.2 343.3,311.7 344.5,311.2 345.6,310.6 347.0,309.9 348.6,309.1 350.1,308.4 351.7,307.7 353.3,307.0 354.9,306.3 356.5,305.7 358.1,305.1 359.7,304.5 361.4,303.9 363.0,303.3 364.7,302.8 366.3,302.3 368.0,301.8 369.7,301.3 371.4,300.9 373.0,300.5 374.7,300.2 376.5,299.9 378.2,299.7 379.9,299.5 381.6,299.3 383.4,299.2 385.1,299.2 386.9,299.1 388.6,299.1 390.3,299.1 392.0,299.2 393.8,299.2 395.5,299.3 397.2,299.4 398.9,299.5 400.7,299.5 402.4,299.7 404.1,299.8 405.8,299.9 407.5,300.1 409.2,300.2 411.0,300.4 412.7,300.7 414.4,300.9 416.1,301.2 417.8,301.5 419.5,301.8 421.1,302.2 422.8,302.6 424.5,303.0 426.2,303.4 427.8,303.9 429.5,304.3 431.1,304.8 432.8,305.4 434.4,305.9 436.0,306.5 437.6,307.1 439.2,307.7 440.8,308.3 442.4,309.0 444.0,309.7 445.6,310.4 446.9,311.0 448.0,311.5 449.1,312.0 450.3,312.4 451.4,312.9 452.6,313.3 453.7,313.7 454.9,314.1 456.1,314.5 457.3,314.8 458.5,315.1 459.7,315.5 460.9,315.8 462.1,316.1 463.3,316.4 464.5,316.7 465.7,316.9 466.9,317.1 468.1,317.3 469.4,317.5 470.6,317.7 471.8,317.8 473.1,317.9 473.7,318.0 462.7,333.0" fill="#A0C79B"/>
<polygon points="323.6,347.6 321.8,347.8 320.0,348.0 318.3,348.1 316.5,348.2 314.7,348.3 312.9,348.4 311.2,348.4 309.4,348.4 307.6,348.3 305.8,348.2 304.0,348.1 302.2,348.0 300.5,347.8 298.7,347.6 296.9,347.3 295.1,347.1 293.4,346.7 291.6,346.4 289.8,346.0 288.1,345.5 286.4,345.1 284.6,344.6 282.9,344.1 281.2,343.5 279.5,342.9 277.8,342.3 276.1,341.7 274.4,341.0 272.8,340.3 271.1,339.6 269.5,338.8 267.9,338.0 266.2,337.2 264.7,336.3 263.1,335.5 261.5,334.5 260.0,333.6 258.5,332.6 257.0,331.5 255.5,330.5 254.1,329.4 252.7,328.2 251.3,327.1 249.9,325.9 248.6,324.7 247.3,323.5 246.0,322.2 244.7,320.9 243.4,319.6 242.2,318.3 241.0,317.0 239.8,315.6 238.7,314.3 237.5,312.9 236.4,311.5 235.3,310.0 234.3,308.6 233.3,307.1 232.3,305.6 231.3,304.1 230.4,302.6 229.4,301.0 228.6,299.4 227.7,297.9 226.9,296.3 226.2,294.7 225.4,293.0 224.7,291.4 224.0,289.8 223.3,288.1 222.7,286.4 222.1,284.8 221.5,283.1 221.0,281.4 220.5,279.7 220.0,278.0 219.5,276.3 219.0,274.6 218.6,272.9 218.2,271.1 217.8,269.4 217.4,267.7 217.1,266.0 216.8,264.2 216.5,262.5 216.2,260.7 216.0,259.0 215.8,257.2 215.7,255.4 215.5,253.7 215.4,251.9 215.3,250.2 215.3,248.4 215.3,246.6 215.3,244.9 215.4,243.1 215.5,241.3 215.6,239.6 215.7,237.8 215.9,236.0 216.1,234.3 216.3,232.5 216.6,231.1 233.2,223.1 246.6,235.9 246.4,237.1 246.2,238.3 246.1,239.6 246.0,240.8 245.9,242.0 245.8,243.2 245.7,244.5 245.7,245.7 245.7,246.9 245.7,248.2 245.7,249.4 245.8,250.6 245.9,251.9 246.0,253.1 246.1,254.3 246.2,255.6 246.4,256.8 246.6,258.0 246.8,259.2 247.0,260.4 247.2,261.6 247.5,262.8 247.8,264.1 248.1,265.2 248.4,266.4 248.7,267.6 249.0,268.8 249.4,270.0 249.7,271.2 250.1,272.4 250.5,273.6 250.9,274.7 251.4,275.9 251.9,277.0 252.4,278.2 252.9,279.3 253.4,280.4 253.9,281.6 254.5,282.7 255.1,283.8 255.7,284.9 256.4,285.9 257.0,287.0 257.7,288.0 258.4,289.1 259.1,290.1 259.9,291.1 260.6,292.1 261.4,293.1 262.2,294.0 263.0,295.0 263.9,295.9 264.7,296.9 265.6,297.8 266.5,298.7 267.4,299.5 268.3,300.4 269.2,301.2 270.2,302.1 271.1,302.9 272.1,303.7 273.1,304.5 274.1,305.2 275.1,306.0 276.1,306.7 277.2,307.4 278.2,308.1 279.3,308.7 280.4,309.4 281.5,310.0 282.6,310.6 283.7,311.1 284.9,311.7 286.0,312.2 287.2,312.8 288.3,313.2 289.5,313.7 290.7,314.2 291.8,314.6 293.0,315.0 294.2,315.4 295.4,315.8 296.6,316.1 297.9,316.5 299.1,316.8 300.3,317.0 301.6,317.3 302.8,317.5 304.0,317.6 305.3,317.8 306.5,317.9 307.8,318.0 309.1,318.0 310.3,318.0 311.6,318.0 312.8,318.0 314.1,318.0 315.3,317.9 316.6,317.8 317.8,317.7 319.0,317.6 320.3,317.5 321.3,317.3 312.0,333.3" fill="#E6C8AE"/>
</g>
<g id="ribbontext">
<text class="rt" dy="5.6"><textPath href="#tp_teal" startOffset="0" textLength="97.4" lengthAdjust="spacingAndGlyphs">8小时外<tspan class="b">无忧派</tspan></textPath></text>
<text class="rt" dy="5.6"><textPath href="#tp_pink" startOffset="0" textLength="103.8" lengthAdjust="spacingAndGlyphs">线上服务<tspan class="b">便捷派</tspan></textPath></text>
<text class="rt" dy="5.6"><textPath href="#tp_gold" startOffset="0" textLength="104.4" lengthAdjust="spacingAndGlyphs">一老一幼<tspan class="b">温暖派</tspan></textPath></text>
<text class="rt" dy="5.6"><textPath href="#tp_green" startOffset="0" textLength="105.4" lengthAdjust="spacingAndGlyphs">应急服务<tspan class="b">坚守派</tspan></textPath></text>
<text class="rt" dy="5.6"><textPath href="#tp_peach" startOffset="0" textLength="106.5" lengthAdjust="spacingAndGlyphs">社区文化<tspan class="b">金彩派</tspan></textPath></text>
<text class="rs" dy="2.4"><textPath href="#tp_teal_s" startOffset="0" textLength="77.3" lengthAdjust="spacingAndGlyphs">8小时工作时间外无忧服务</textPath></text>
<text class="rs" dy="2.4"><textPath href="#tp_pink_s" startOffset="0" textLength="61.9" lengthAdjust="spacingAndGlyphs">365在线24小时服务</textPath></text>
<text class="rs" dy="2.4"><textPath href="#tp_gold_s" startOffset="0" textLength="76.2" lengthAdjust="spacingAndGlyphs">“一老一幼”专项生活服务</textPath></text>
<text class="rs" dy="2.4"><textPath href="#tp_green_s" startOffset="0" textLength="53.8" lengthAdjust="spacingAndGlyphs">突发时间应急处理</textPath></text>
<text class="rs" dy="2.4"><textPath href="#tp_peach_s" startOffset="0" textLength="64.0" lengthAdjust="spacingAndGlyphs">多元丰富的社区活动</textPath></text>
</g>
</svg>

<div class="abs title">金派服务体系</div>
<div class="abs sub">GOLD SERVICE&nbsp; SYSTEM</div>
<div class="abs p" style="top:56.2px">金<b>:</b>金辉<b>,</b>品牌名单字更直接</div>
<div class="abs p" style="top:72.35px">派<b>:</b>为<b>“</b>π<b>”</b>的谐音<b>,</b>代表π服务体系</div>
<div class="abs p" style="top:88.5px">组合<b>:</b>“金派=金牌”</div>
<div class="abs p" style="top:104.65px">一个派就是一种生活态度</div>
<div class="abs p" style="top:120.8px">十个派就是十全十美的生活体验</div>

<div class="pill" style="left:285.5px;top:88.3px;width:220px;height:31.4px;line-height:35.6px;font-size:17px;letter-spacing:0.2px;padding-left:3.2px;">全生命周期应用场景</div>
<div class="pill" style="left:286.4px;top:229.4px;width:218.2px;height:29.7px;line-height:37.3px;font-size:16px;letter-spacing:0.3px;padding-right:4.4px;">全龄全维<span style="display:inline-block;width:13.2px"></span>生活触点</div>

<div class="c" style="left:151.5px;top:184.2px"><i class="o"></i><i class="n"></i><div class="a">始终呵护</div><div class="t">焕新派</div><div class="s1">园区品质定期</div><div class="s2">焕新维护</div></div>
<div class="c d1" style="left:640.6px;top:182.6px"><i class="o"></i><i class="n"></i><div class="a">一见倾心</div><div class="t">倾心派</div><div class="s1">购房后管家</div><div class="s2">前期介入</div></div>
<div class="c" style="left:597.2px;top:380px"><i class="o"></i><i class="n"></i><div class="a">甄选兑现</div><div class="t">兑现派</div><div class="s1">交付前定期</div><div class="s2">发送家书</div></div>
<div class="c" style="left:396.9px;top:401.7px"><i class="o"></i><i class="n"></i><div class="a">暖心迁居</div><div class="t">安心派</div><div class="s1">交付时一对一</div><div class="s2">陪同验房</div></div>
<div class="c" style="left:208.6px;top:379.8px"><i class="o"></i><i class="n"></i><div class="a">入住无忧</div><div class="t">暖心派</div><div class="s1">入住后定制化</div><div class="s2">贴心服务</div></div>
</body>
</html>
